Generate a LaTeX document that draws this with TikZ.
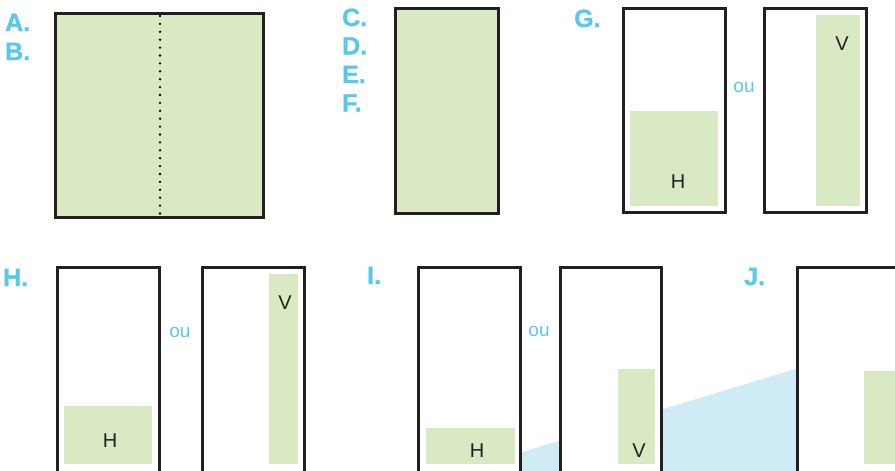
\documentclass[tikz,border=0pt]{standalone}
\usepackage{fontspec}
\setmainfont{Liberation Sans}
\newfontfamily\labelfont[FakeBold=1.2]{Liberation Sans Bold}
\definecolor{lblue}{HTML}{5AC8EB}
\definecolor{pgreen}{HTML}{D9E9C3}
\definecolor{pblue}{HTML}{CFEBF5}
\definecolor{ink}{HTML}{231F20}
\tikzset{
  letter/.style={anchor=base west,inner sep=0pt,text=lblue,font=\labelfont\fontsize{25}{25}\selectfont},
  ortext/.style={anchor=base,inner sep=0pt,text=lblue,font=\fontsize{19}{19}\selectfont},
  hv/.style={anchor=base,inner sep=0pt,text=ink,font=\fontsize{20}{20}\selectfont},
  frame/.style={draw=ink,line width=3pt},
  zone/.style={fill=pgreen}
}
\begin{document}
\begin{tikzpicture}[x=1pt,y=-1pt]
\useasboundingbox (0,0) rectangle (895,471);
\clip (0,0) rectangle (895,471);
% light blue wedge
\fill[pblue] (480,464.8) -- (820,361.4) -- (820,480) -- (480,480) -- cycle;
% A/B
\draw[frame,fill=pgreen] (55.5,13.5) rectangle (263.5,217.5);
\draw[black,line width=2.6pt,line cap=round,dash pattern=on 0pt off 7.9pt] (160,16) -- (160,216);
\node[letter] (la) at (5,31) {A.};
\node[letter] (lb) at (5,60) {B.};
% C-F
\draw[frame,fill=pgreen] (395.5,8.5) rectangle (498.5,213.5);
\node[letter] (lc) at (342,26) {C.};
\node[letter] (ld) at (342,54.5) {D.};
\node[letter] (le) at (342,83) {E.};
\node[letter] (lf) at (342,111.5) {F.};
% G
\node[letter] (lg) at (574,27) {G.};
\draw[frame,fill=white] (623.5,8.5) rectangle (725.5,212.5);
\fill[zone] (630,111) rectangle (718,206);
\node[hv] (gh) at (678,188) {H};
\node[ortext] (gou) at (744,92) {ou};
\draw[frame,fill=white] (764.5,8.5) rectangle (866.5,212.5);
\fill[zone] (816,15) rectangle (860,206);
\node[hv] (gv) at (842,50) {V};
% H
\node[letter] (lh) at (3,286) {H.};
\draw[frame,fill=white] (57.5,267.5) rectangle (159.5,485);
\fill[zone] (64,406) rectangle (152,464);
\node[hv] (hh) at (110,447) {H};
\node[ortext] (hou) at (180,337) {ou};
\draw[frame,fill=white] (202.5,267.5) rectangle (304.5,485);
\fill[zone] (269,274) rectangle (298,464);
\node[hv] (hv) at (285,309) {V};
% I
\node[letter] (li) at (367,284) {I.};
\draw[frame,fill=white] (418.5,267.5) rectangle (520.5,485);
\fill[zone] (426,428) rectangle (515,464);
\node[hv] (ih) at (477,457) {H};
\node[ortext] (iou) at (539,336) {ou};
\draw[frame,fill=white] (560.5,267.5) rectangle (661.5,485);
\fill[zone] (618,369) rectangle (655,464);
\node[hv] (iv) at (639,457) {V};
% J
\node[letter] (lj) at (744,285) {J.};
\draw[frame,fill=white] (797.5,267.5) rectangle (920,485);
\fill[zone] (864,371) rectangle (905,464);
\end{tikzpicture}
\end{document}
